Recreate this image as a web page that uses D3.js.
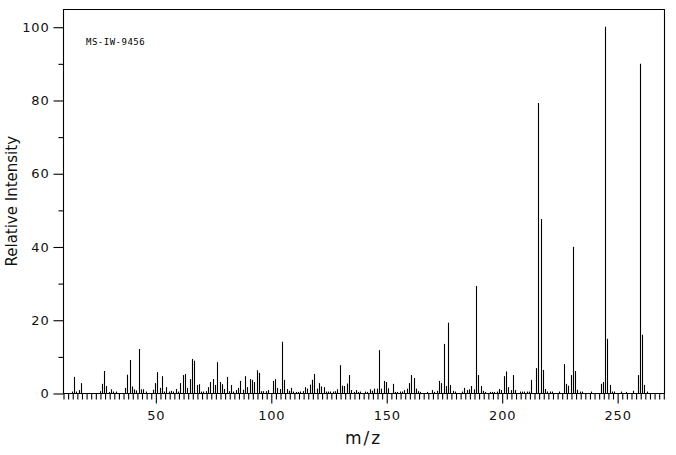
<!DOCTYPE html>
<html><head><meta charset="utf-8">
<script src="https://cdn.jsdelivr.net/npm/d3@7"></script>
<style>body{margin:0;background:#fff}svg{display:block}</style>
</head><body>
<script>
const mz = [14,15,16,17,18,26,27,28,29,30,31,32,33,37,38,39,40,41,42,43,44,45,46,49,50,51,52,53,54,55,56,57,58,59,60,61,62,63,64,65,66,67,68,69,70,71,72,73,74,75,76,77,78,79,80,81,82,83,84,85,86,87,88,89,90,91,92,93,94,95,96,97,98,99,101,102,103,104,105,106,107,108,109,110,111,112,113,114,115,116,117,118,119,120,121,122,123,124,125,126,127,128,129,130,131,132,133,134,135,136,137,138,139,141,142,143,144,145,146,147,148,149,150,151,153,154,155,156,157,158,159,160,161,162,163,164,165,168,170,171,172,173,174,175,176,177,178,179,180,183,184,185,186,187,188,189,190,191,192,193,195,196,197,198,199,200,201,202,203,204,205,206,208,209,210,211,212,213,215,216,217,218,219,220,221,222,225,227,228,229,230,231,232,233,234,235,239,243,244,245,246,247,248,249,252,254,257,259,260,261,262,263];
const intensity = [0.4,4.4,0.4,0.8,2.7,0.5,2.5,6.0,1.9,0.3,1.0,0.4,0.4,1.4,5.0,9.0,1.8,1.0,0.7,12.0,1.0,1.0,0.4,0.9,2.7,5.7,1.4,4.6,0.4,1.6,0.4,0.6,0.4,1.1,0.4,2.7,4.9,5.2,1.4,3.8,9.3,8.8,2.2,2.4,0.4,0.4,0.5,1.6,3.0,3.8,2.2,8.4,3.0,2.4,1.1,4.4,0.5,2.2,0.4,0.8,1.4,3.3,0.9,4.6,1.6,3.8,3.6,3.0,6.2,5.5,0.5,0.5,0.5,0.8,3.3,3.8,1.4,1.1,14.0,3.6,1.1,0.6,1.4,0.4,0.3,0.3,0.4,0.5,1.6,1.2,2.3,3.6,5.2,1.2,2.7,1.8,1.6,0.4,0.4,0.4,0.4,0.5,1.0,7.6,2.0,1.9,2.6,4.9,0.8,0.3,0.8,0.3,0.4,0.4,0.3,1.0,0.6,1.2,1.2,11.7,1.2,3.3,3.0,1.3,2.5,0.3,0.3,0.4,0.4,0.8,1.2,2.7,4.9,4.1,1.2,0.5,0.3,0.3,0.8,0.3,0.6,3.3,2.7,13.4,1.9,19.2,2.2,0.6,0.4,0.4,1.4,0.8,1.0,1.9,1.0,29.2,4.9,1.9,0.6,0.3,0.3,0.3,0.3,0.4,1.1,0.8,4.6,5.9,1.6,0.8,4.9,0.8,0.4,0.4,0.4,0.4,0.4,3.6,6.8,79.2,47.5,6.3,1.1,0.4,0.4,0.4,0.4,7.9,2.5,2.0,4.9,39.9,6.0,0.9,0.4,0.4,0.4,2.5,3.0,100,14.8,2.2,0.4,0.4,0.4,0.3,0.6,4.9,89.9,15.9,2.2,0.4];
const xMajorTicks = [50,100,150,200,250];
const yMajorTicks = [0,20,40,60,80,100];
const title = "MS-IW-9456";
const xLabel = "m/z";
const yLabel = "Relative Intensity";

const W = 676, H = 455;
const L = 63, R = 664, T = 9.5, B = 393;
const svg = d3.select("body").append("svg").attr("width", W).attr("height", H);
const x = d3.scaleLinear().domain([10, 270.3]).range([L, R]);
const y = d3.scaleLinear().domain([0, 104.7]).range([B, T]);
const font = "DejaVu Sans, sans-serif";

svg.append("path").attr("d", `M${L+0.5},${B+0.5}V${T}H${R+0.5}V${B+0.5}`)
  .attr("fill","none").attr("stroke","#000").attr("stroke-width",1.1);

const xMinor = svg.append("g").attr("transform", `translate(0.5,${B+0.5})`)
  .call(d3.axisBottom(x).tickValues(d3.range(10, 271, 2).filter(v => v % 50 !== 0)).tickSize(6).tickFormat(""));
const xMaj = svg.append("g").attr("transform", `translate(0.5,${B+0.5})`)
  .call(d3.axisBottom(x).tickValues(xMajorTicks).tickSize(10).tickPadding(7).tickFormat(d3.format("d")));
const yMinor = svg.append("g").attr("transform", `translate(${L+0.5},0.5)`)
  .call(d3.axisLeft(y).tickValues([10,30,50,70,90]).tickSize(5).tickFormat(""));
const yMaj = svg.append("g").attr("transform", `translate(${L+0.5},0.5)`)
  .call(d3.axisLeft(y).tickValues(yMajorTicks).tickSize(10).tickPadding(4).tickFormat(d3.format("d")));
[xMinor, xMaj, yMinor, yMaj].forEach(g => {
  g.select(".domain").remove();
  g.selectAll(".tick line").attr("stroke","#000").attr("stroke-width",1.1);
  g.selectAll("text").attr("font-family", font).attr("font-size", 13).attr("fill","#111").attr("letter-spacing", 0.8);
});
svg.append("line").attr("x1", L).attr("x2", R+1).attr("y1", B+0.5).attr("y2", B+0.5).attr("stroke","#000").attr("stroke-width",1.1);

svg.append("g").selectAll("line").data(mz.map((m,i)=>({m, v: intensity[i]}))).join("line")
  .attr("x1", d => Math.round(x(d.m) - 0.4) + 0.5).attr("x2", d => Math.round(x(d.m) - 0.4) + 0.5)
  .attr("y1", y(0)).attr("y2", d => y(d.v))
  .attr("stroke","#000").attr("stroke-width",1.1);

svg.append("text").attr("x", 86).attr("y", 45).text(title)
  .attr("font-family","DejaVu Sans Mono, monospace").attr("font-size", 9).attr("letter-spacing", 0.5).attr("fill","#000");
svg.append("text").attr("x", (L+R)/2).attr("y", 444).attr("text-anchor","middle").text(xLabel)
  .attr("font-family", font).attr("font-size", 17).attr("letter-spacing", 2).attr("fill","#111");
svg.append("text").attr("transform", `translate(17,${(T+B)/2}) rotate(-90)`).attr("text-anchor","middle").text(yLabel)
  .attr("font-family", font).attr("font-size", 15).attr("fill","#111");
</script>
</body></html>
